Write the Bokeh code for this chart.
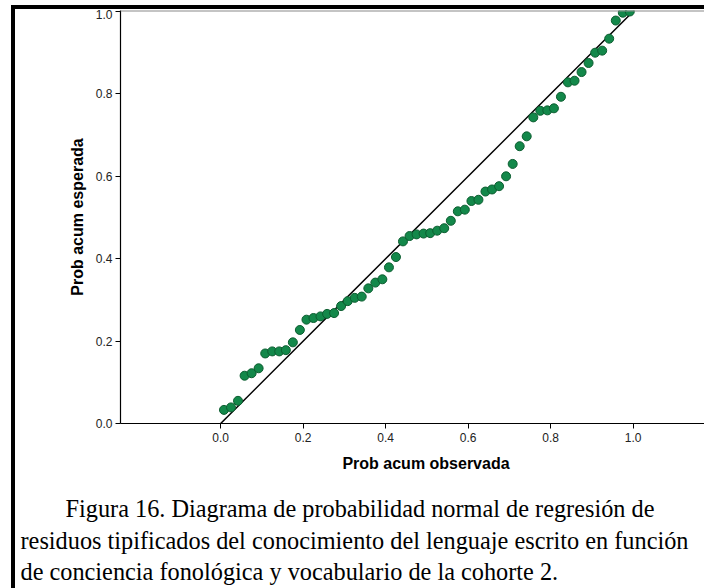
from bokeh.plotting import figure
from bokeh.models import Range1d, FixedTicker, PrintfTickFormatter, Span, Spacer
from bokeh.layouts import column, row
from bokeh.core.properties import value
from bokeh.embed import file_html
from bokeh.resources import INLINE

# ---- data ----
obs_prob = [0.008, 0.025, 0.042, 0.058, 0.075, 0.092, 0.108, 0.125, 0.142, 0.158,
            0.175, 0.192, 0.208, 0.225, 0.242, 0.258, 0.275, 0.292, 0.308, 0.325,
            0.342, 0.358, 0.375, 0.392, 0.408, 0.425, 0.442, 0.458, 0.475, 0.492,
            0.508, 0.525, 0.542, 0.558, 0.575, 0.592, 0.608, 0.625, 0.642, 0.658,
            0.675, 0.692, 0.708, 0.725, 0.742, 0.758, 0.775, 0.792, 0.808, 0.825,
            0.842, 0.858, 0.875, 0.892, 0.908, 0.925, 0.942, 0.958, 0.975, 0.992]
exp_prob = [0.033, 0.039, 0.055, 0.116, 0.122, 0.134, 0.170, 0.175, 0.175, 0.178,
            0.197, 0.227, 0.252, 0.256, 0.260, 0.266, 0.268, 0.285, 0.297, 0.305,
            0.308, 0.328, 0.342, 0.350, 0.379, 0.404, 0.442, 0.455, 0.459, 0.461,
            0.462, 0.468, 0.474, 0.492, 0.515, 0.519, 0.540, 0.543, 0.563, 0.568,
            0.576, 0.600, 0.630, 0.673, 0.697, 0.743, 0.759, 0.760, 0.765, 0.793,
            0.828, 0.832, 0.853, 0.875, 0.900, 0.905, 0.934, 0.978, 0.997, 1.000]
ref_x = [0.0, 1.0]
ref_y = [0.0, 1.0]
tick_values = [0.0, 0.2, 0.4, 0.6, 0.8, 1.0]

x_title = "Prob acum observada"
y_title = "Prob acum esperada"
caption_lines = [
    "Figura 16. Diagrama de probabilidad normal de regresión de",
    "residuos tipificados del conocimiento del lenguaje escrito en función",
    "de conciencia fonológica y vocabulario de la cohorte 2.",
]

# ---- chart figure (canvas origin at page x=15, y=9) ----
CW, CH = 689, 440
Y_END = 1.0024
p = figure(width=CW, height=CH, output_backend="svg", toolbar_location=None,
           x_range=Range1d(-0.2429, 1.1731), y_range=Range1d(0.0, Y_END),
           min_border_left=105, min_border_right=0, min_border_top=1,
           min_border_bottom=26)
p.frame_align = False
p.outline_line_color = None
p.xgrid.visible = False
p.ygrid.visible = False
p.background_fill_color = "white"
p.border_fill_color = "white"

for ax in (p.xaxis[0], p.yaxis[0]):
    ax.ticker = FixedTicker(ticks=tick_values)
    ax.formatter = PrintfTickFormatter(format="%.1f")
    ax.major_tick_in = 0
    ax.major_tick_out = 5
    ax.minor_tick_line_color = None
    ax.axis_line_color = "black"
    ax.axis_line_width = 1.2
    ax.major_tick_line_color = "black"
    ax.major_label_text_font = "Liberation Sans"
    ax.major_label_text_font_size = "12px"
    ax.major_label_text_color = "#222222"

p.xaxis[0].major_label_standoff = 4
p.yaxis[0].major_label_standoff = 3
p.yaxis[0].axis_label = y_title
p.yaxis[0].axis_label_text_font = "Liberation Sans"
p.yaxis[0].axis_label_text_font_style = "bold"
p.yaxis[0].axis_label_text_font_size = "16px"
p.yaxis[0].axis_label_text_color = "black"
p.yaxis[0].axis_label_standoff = 7

# grey top frame line
p.add_layout(Span(location=Y_END, dimension="width", line_color="#8a8a8a", line_width=2))

# reference diagonal and points
p.line(ref_x, ref_y, line_color="black", line_width=1.5)
p.scatter(obs_prob, exp_prob, size=9, fill_color="#13884a",
          line_color="#0c5d30", line_width=1)

# ---- lower figure: x-axis title and caption (pixel-like coordinates) ----
LW, LH = 689, 139
q = figure(width=LW, height=LH, output_backend="svg", toolbar_location=None,
           x_range=Range1d(0, LW), y_range=Range1d(LH, 0),
           x_axis_location=None, y_axis_location=None, min_border=0)
q.frame_align = False
q.outline_line_color = None
q.xgrid.visible = False
q.ygrid.visible = False
q.background_fill_color = "white"
q.border_fill_color = "white"

q.text(x=[410.5], y=[14], text=[x_title], text_align="center",
       text_baseline="middle", text_font=value("Liberation Sans"),
       text_font_style="bold", text_font_size="16px", text_color="black")

cap_x = [50, 5, 5]
cap_y = [59, 91, 122]
q.text(x=cap_x, y=cap_y, text=caption_lines, text_align="left",
       text_baseline="alphabetic", text_font=value("Liberation Serif"),
       text_font_size="24.3px", text_color="black")

# ---- page frame: black border left and top ----
layout = column(
    Spacer(width=704, height=5),
    row(Spacer(width=11, height=4),
        Spacer(width=693, height=4, styles={"background-color": "black"})),
    row(Spacer(width=11, height=579),
        Spacer(width=4, height=579, styles={"background-color": "black"}),
        column(p, q)),
)

open("out.html", "w").write(file_html(layout, INLINE))
